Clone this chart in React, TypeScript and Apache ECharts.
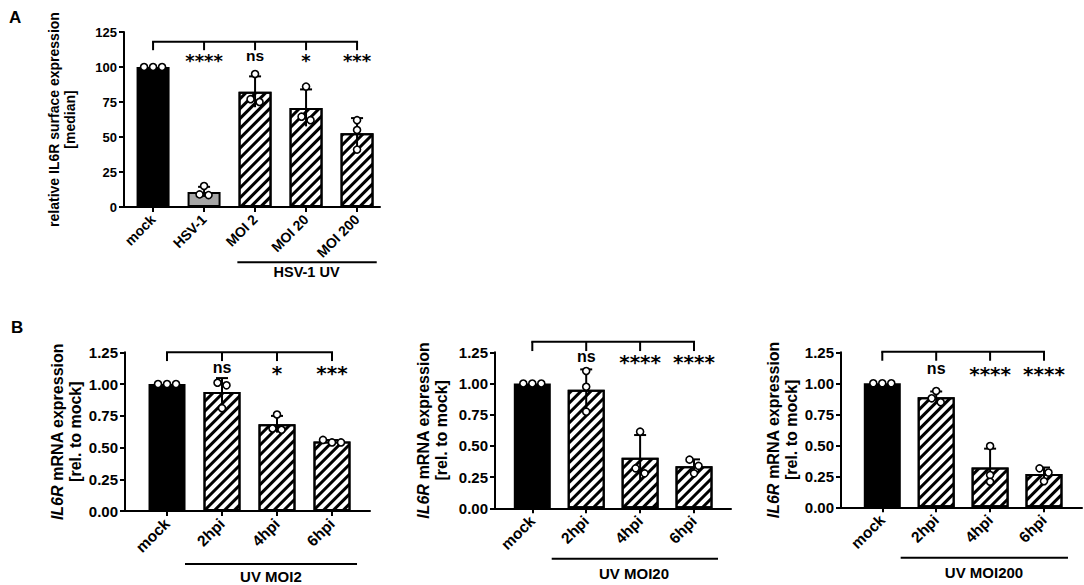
import React, { useEffect, useRef } from 'react';
import * as echarts from 'echarts';

// ---------- DATA ----------
const CATS_A = ['mock', 'HSV-1', 'MOI 2', 'MOI 20', 'MOI 200'];
const MEAN_A = [100, 10.8, 82.3, 70.8, 52.6];
const SD_A = [0, 3.6, 11, 13.2, 10.9];
const POINTS_A = [[100, 100, 100], [15, 9, 8.5], [95, 77, 75], [86, 64.5, 62], [62, 55, 41]];
const SIG_A = ['', '****', 'ns', '*', '***'];
const GROUP_A = 'HSV-1 UV';
const YNAME_A = 'relative IL6R surface expression\n[median]';

const CATS_B = ['mock', '2hpi', '4hpi', '6hpi'];
const MEAN_B1 = [1, 0.937, 0.683, 0.547];
const SD_B1 = [0, 0.11, 0.066, 0.012];
const POINTS_B1 = [[1, 1, 1], [1.01, 0.99, 0.81], [0.76, 0.65, 0.64], [0.56, 0.54, 0.54]];
const SIG_B1 = ['', 'ns', '*', '***'];
const GROUP_B1 = 'UV MOI2';

const MEAN_B2 = [1, 0.949, 0.405, 0.337];
const SD_B2 = [0, 0.164, 0.182, 0.055];
const POINTS_B2 = [[1, 1, 1], [1.1, 0.974, 0.774], [0.614, 0.32, 0.28], [0.39, 0.34, 0.28]];
const SIG_B2 = ['', 'ns', '****', '****'];
const GROUP_B2 = 'UV MOI20';

const MEAN_B3 = [1, 0.888, 0.32, 0.268];
const SD_B3 = [0, 0.046, 0.153, 0.053];
const POINTS_B3 = [[1, 1, 1], [0.938, 0.879, 0.847], [0.494, 0.26, 0.206], [0.314, 0.28, 0.21]];
const SIG_B3 = ['', 'ns', '****', '****'];
const GROUP_B3 = 'UV MOI200';

const YNAME_B = '{it|IL6R} mRNA expression\n[rel. to mock]';

// ---------- STYLE / LAYOUT ----------
const FONT = '"Liberation Sans", Arial, Helvetica, sans-serif';
const STAR_FONT = '"DejaVu Sans", "Liberation Sans", sans-serif';
const STAR_SHIFT = 5; // px: asterisks sit high in their em box

const HATCH = {
  color: '#ffffff',
  borderColor: '#000',
  borderWidth: 2,
  decal: {
    symbol: 'rect',
    symbolSize: 1,
    color: '#000',
    dashArrayX: [1, 0],
    dashArrayY: [3, 4],
    rotation: -Math.PI / 4,
  },
};
const SOLID = { color: '#000', borderColor: '#000', borderWidth: 2 };
const GRAY = { color: '#a6a6a6', borderColor: '#000', borderWidth: 2 };

const panels = [
  {
    cats: CATS_A, means: MEAN_A, sds: SD_A, points: POINTS_A, sig: SIG_A, group: GROUP_A,
    yName: YNAME_A, fills: [SOLID, GRAY, HATCH, HATCH, HATCH],
    grid: { left: 124, top: 32, width: 256, height: 175 },
    xMin: -0.57, xMax: 4.45, yMax: 125, yInterval: 25, dec: 0,
    barWidth: 33, nameGap: 46, nameFont: 14, nameLH: 16, tickFont: 13, catFont: 14,
    bracket: [118, 112], sigY: 107.9, starFont: 18, nsFont: 15.5,
    groupLine: [1.653, 4.386, -39.5], groupText: [3.01, -46.5], groupFont: 14.5,
  },
  {
    cats: CATS_B, means: MEAN_B1, sds: SD_B1, points: POINTS_B1, sig: SIG_B1, group: GROUP_B1,
    yName: YNAME_B, fills: [SOLID, HATCH, HATCH, HATCH],
    grid: { left: 125, top: 352.3, width: 245, height: 158.7 },
    xMin: -0.764, xMax: 3.691, yMax: 1.25, yInterval: 0.25, dec: 2,
    barWidth: 37, nameGap: 38, nameFont: 16, nameLH: 18, tickFont: 15, catFont: 15.5,
    bracket: [1.25, 1.181], sigY: 1.129, starFont: 20, nsFont: 16,
    groupLine: [0.327, 3.455, -0.417], groupText: [1.89, -0.512], groupFont: 15,
  },
  {
    cats: CATS_B, means: MEAN_B2, sds: SD_B2, points: POINTS_B2, sig: SIG_B2, group: GROUP_B2,
    yName: YNAME_B, fills: [SOLID, HATCH, HATCH, HATCH],
    grid: { left: 495, top: 352.3, width: 236, height: 156 },
    xMin: -0.692, xMax: 3.686, yMax: 1.25, yInterval: 0.25, dec: 2,
    barWidth: 37, nameGap: 45, nameFont: 16, nameLH: 18, tickFont: 15, catFont: 15.5,
    bracket: [1.335, 1.26], sigY: 1.216, starFont: 20, nsFont: 16,
    groupLine: [0.36, 3.445, -0.404], groupText: [1.887, -0.52], groupFont: 15,
  },
  {
    cats: CATS_B, means: MEAN_B3, sds: SD_B3, points: POINTS_B3, sig: SIG_B3, group: GROUP_B3,
    yName: YNAME_B, fills: [SOLID, HATCH, HATCH, HATCH],
    grid: { left: 841, top: 352.3, width: 241, height: 155 },
    xMin: -0.766, xMax: 3.705, yMax: 1.25, yInterval: 0.25, dec: 2,
    barWidth: 37, nameGap: 33, nameFont: 16, nameLH: 18, tickFont: 15, catFont: 15.5,
    bracket: [1.255, 1.182], sigY: 1.118, starFont: 20, nsFont: 16,
    groupLine: [0.341, 3.445, -0.406], groupText: [1.887, -0.523], groupFont: 15,
  },
];

// spread overlapping replicate points horizontally (Prism-like scatter)
function spreadPoints(vals: number[], thr: number, step: number, x: number) {
  const order = vals.map((v, i) => ({ v, i })).sort((a, b) => b.v - a.v);
  const out: number[][] = [];
  let cluster: { v: number; i: number }[] = [];
  const flush = () => {
    const n = cluster.length;
    cluster.forEach((p, k) => out.push([x + (k - (n - 1) / 2) * step, p.v]));
    cluster = [];
  };
  order.forEach((p) => {
    if (cluster.length && cluster[cluster.length - 1].v - p.v >= thr) flush();
    cluster.push(p);
  });
  flush();
  return out;
}

function buildOption() {
  const grid: any[] = [];
  const xAxis: any[] = [];
  const yAxis: any[] = [];
  const series: any[] = [];

  panels.forEach((p, pi) => {
    grid.push({ ...p.grid, containLabel: false });
    const idx = p.cats.map((_, i) => i);
    const pxPerUnit = p.grid.width / (p.xMax - p.xMin);
    xAxis.push({
      gridIndex: pi, type: 'value', min: p.xMin, max: p.xMax,
      axisLine: { show: true, onZero: false, lineStyle: { color: '#000', width: 2 } },
      axisTick: { show: true, customValues: idx, length: 5, lineStyle: { color: '#000', width: 2 } },
      axisLabel: {
        show: true, customValues: idx, rotate: 45, margin: 10,
        formatter: (v: number) => p.cats[Math.round(v)] ?? '',
        color: '#000', fontWeight: 'bold', fontSize: p.catFont, fontFamily: FONT,
      },
      splitLine: { show: false },
    });
    yAxis.push({
      gridIndex: pi, type: 'value', min: 0, max: p.yMax, interval: p.yInterval,
      name: p.yName, nameLocation: 'middle', nameRotate: 90, nameGap: p.nameGap,
      nameTextStyle: {
        color: '#000', fontWeight: 'bold', fontSize: p.nameFont, lineHeight: p.nameLH, fontFamily: FONT,
        rich: { it: { fontStyle: 'italic', fontWeight: 'bold', fontSize: p.nameFont, lineHeight: p.nameLH, fontFamily: FONT, color: '#000' } },
      },
      axisLine: { show: true, onZero: false, lineStyle: { color: '#000', width: 2 } },
      axisTick: { show: true, length: 5, lineStyle: { color: '#000', width: 2 } },
      axisLabel: {
        margin: 7, color: '#000', fontWeight: 'bold', fontSize: p.tickFont, fontFamily: FONT,
        formatter: (v: number) => v.toFixed(p.dec),
      },
      splitLine: { show: false },
    });

    // bars
    series.push({
      type: 'bar', xAxisIndex: pi, yAxisIndex: pi, barWidth: p.barWidth, z: 2,
      data: p.means.map((m, i) => ({ value: [i, m], itemStyle: p.fills[i] })),
    });

    // error bars (mean ± SD, cap on top)
    series.push({
      type: 'custom', xAxisIndex: pi, yAxisIndex: pi, z: 3, clip: false,
      data: p.means.map((m, i) => [i, m, p.sds[i]]),
      renderItem: (params: any, api: any) => {
        const x = api.value(0), m = api.value(1), s = api.value(2);
        if (!s) return { type: 'group', children: [] };
        const top = api.coord([x, m + s]);
        const bot = api.coord([x, m - s]);
        return {
          type: 'group',
          children: [
            { type: 'line', shape: { x1: top[0], y1: top[1], x2: bot[0], y2: bot[1] }, style: { stroke: '#000', lineWidth: 2 } },
            { type: 'line', shape: { x1: top[0] - 6, y1: top[1], x2: top[0] + 6, y2: top[1] }, style: { stroke: '#000', lineWidth: 2 } },
          ],
        };
      },
    });

    // replicate points
    const thr = (p.yMax * 6.5) / p.grid.height;
    const step = 9 / pxPerUnit;
    const pts: number[][] = [];
    p.points.forEach((vals, i) => spreadPoints(vals, thr, step, i).forEach((q) => pts.push(q)));
    series.push({
      type: 'scatter', xAxisIndex: pi, yAxisIndex: pi, z: 4, symbol: 'circle', symbolSize: 7,
      itemStyle: { color: '#fff', borderColor: '#000', borderWidth: 1.6, opacity: 1 },
      data: pts,
    });

    // comparison bracket + significance labels
    const last = p.cats.length - 1;
    series.push({
      type: 'custom', xAxisIndex: pi, yAxisIndex: pi, z: 5, clip: false,
      data: [[0, p.bracket[0]]],
      renderItem: (params: any, api: any) => {
        const a = api.coord([0, p.bracket[0]]);
        const b = api.coord([last, p.bracket[0]]);
        const children: any[] = [
          { type: 'line', shape: { x1: a[0] - 1, y1: a[1], x2: b[0] + 1, y2: b[1] }, style: { stroke: '#000', lineWidth: 2 } },
        ];
        idx.forEach((i) => {
          const t = api.coord([i, p.bracket[0]]);
          const d = api.coord([i, p.bracket[1]]);
          children.push({ type: 'line', shape: { x1: t[0], y1: t[1], x2: d[0], y2: d[1] }, style: { stroke: '#000', lineWidth: 2 } });
          const label = p.sig[i];
          if (label) {
            const c = api.coord([i, p.sigY]);
            const isStar = label.indexOf('*') >= 0;
            children.push({
              type: 'text', x: c[0], y: isStar ? c[1] + STAR_SHIFT : c[1],
              style: {
                text: label, align: 'center', verticalAlign: 'middle', fill: '#000',
                fontWeight: 'bold', fontSize: isStar ? p.starFont : p.nsFont,
                fontFamily: isStar ? STAR_FONT : FONT,
              },
            });
          }
        });
        return { type: 'group', children };
      },
    });

    // group underline + label
    series.push({
      type: 'custom', xAxisIndex: pi, yAxisIndex: pi, z: 5, clip: false,
      data: [[p.groupText[0], p.groupText[1]]],
      renderItem: (params: any, api: any) => {
        const a = api.coord([p.groupLine[0], p.groupLine[2]]);
        const b = api.coord([p.groupLine[1], p.groupLine[2]]);
        const c = api.coord([p.groupText[0], p.groupText[1]]);
        return {
          type: 'group',
          children: [
            { type: 'line', shape: { x1: a[0], y1: a[1], x2: b[0], y2: b[1] }, style: { stroke: '#000', lineWidth: 2 } },
            {
              type: 'text', x: c[0], y: c[1],
              style: { text: p.group, align: 'center', verticalAlign: 'middle', fill: '#000', fontWeight: 'bold', fontSize: p.groupFont, fontFamily: FONT },
            },
          ],
        };
      },
    });
  });

  return {
    animation: false,
    backgroundColor: '#ffffff',
    grid, xAxis, yAxis, series,
    graphic: [
      { type: 'text', left: 9, top: 9, style: { text: 'A', fontSize: 17, fontWeight: 'bold', fontFamily: FONT, fill: '#000' } },
      { type: 'text', left: 11, top: 319, style: { text: 'B', fontSize: 17, fontWeight: 'bold', fontFamily: FONT, fill: '#000' } },
    ],
  };
}

export default function App() {
  const ref = useRef<HTMLDivElement>(null);
  useEffect(() => {
    if (!ref.current) return;
    const chart = echarts.init(ref.current, undefined, { renderer: 'svg' });
    chart.setOption(buildOption() as any);
    return () => chart.dispose();
  }, []);
  return (
    <div
      ref={ref}
      style={{ position: 'fixed', left: 0, top: 0, width: 1084, height: 585, background: '#fff' }}
    />
  );
}
